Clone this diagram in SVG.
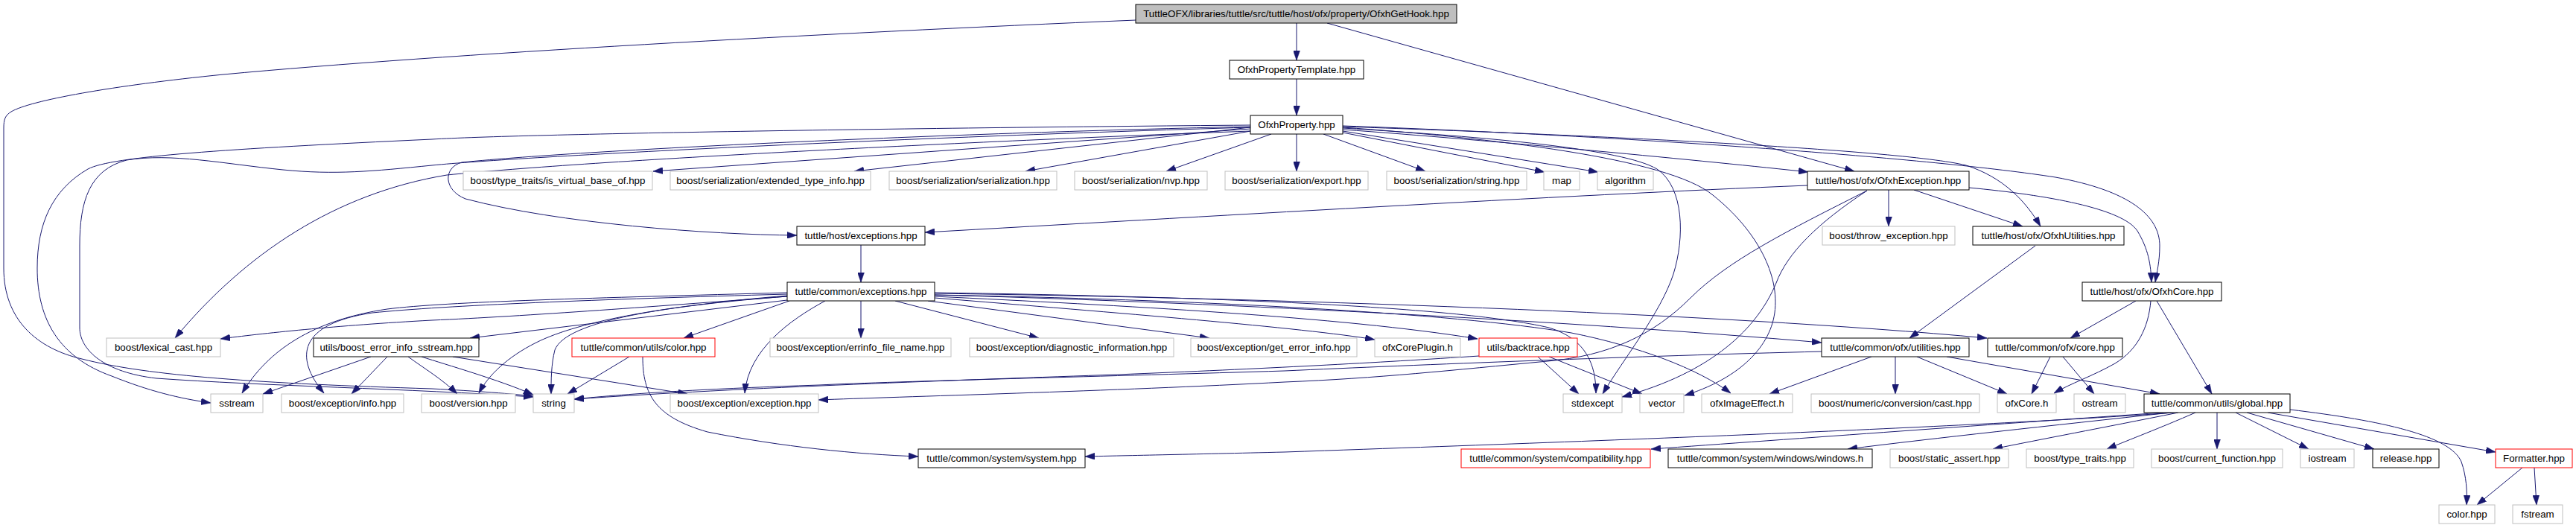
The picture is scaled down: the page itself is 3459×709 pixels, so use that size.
<svg xmlns="http://www.w3.org/2000/svg" width="3459" height="709" viewBox="0 0 3459 709">
<style>
rect{fill:#ffffff;stroke:#000000;stroke-width:1}
.g rect{stroke:#bfbfbf}
.r rect{stroke:#ff0000}
.root rect{fill:#bfbfbf}
text{font-family:"Liberation Sans",Arial,Helvetica,sans-serif;font-size:13.33px;text-anchor:middle;fill:#000000}
#edges path{fill:none;stroke:#191970;stroke-width:1;marker-end:url(#arr)}
</style>
<defs>
<marker id="arr" markerUnits="userSpaceOnUse" markerWidth="13" markerHeight="9" viewBox="0 0 13 9" refX="13" refY="4.5" orient="auto">
<path d="M0,0 L13,4.5 L0,9 z" fill="#191970" stroke="#191970" stroke-width="0.5"/>
</marker>
</defs>
<rect x="0" y="0" width="3459" height="709" style="fill:#ffffff;stroke:none"/>
<g id="edges">
<path d="M1741,31 L1741,81"/>
<path d="M1782,31 L2490,230"/>
<path d="M1525,27 C1100,45 600,72 300,100 C150,115 40,135 15,150 C7,155 5,160 5,172 L5,360 C5,430 50,468 110,482 C200,505 350,515 580,522 C640,525 690,529 716,532"/>
<path d="M1741,106 L1741,155"/>
<path d="M1679,173 L877,230"/>
<path d="M1679,171 L1147,230"/>
<path d="M1679,176 L1377,230"/>
<path d="M1707,180 L1566,230"/>
<path d="M1741,180 L1741,230"/>
<path d="M1777,180 L1914,230"/>
<path d="M1803,178 L2074,231"/>
<path d="M1803,176 L2146,231"/>
<path d="M1803,174 C2000,188 2300,217 2428,231"/>
<path d="M1803,170 C2100,180 2550,200 2640,222 C2690,238 2720,270 2740,304"/>
<path d="M1803,169 C2200,183 2600,213 2760,238 C2860,256 2900,290 2900,330 C2900,352 2896,366 2894,379"/>
<path d="M1803,172 C2000,184 2180,200 2225,227 C2262,252 2262,320 2247,368 C2230,420 2180,482 2152,529"/>
<path d="M1803,171 C2000,185 2240,212 2300,262 C2360,310 2390,370 2383,420 C2376,470 2330,510 2262,531"/>
<path d="M1679,168 C1200,172 700,180 580,187 C300,200 150,210 118,227 C70,255 50,300 50,360 C50,430 80,480 150,505 C200,525 240,535 283,541"/>
<path d="M1679,171 C1200,185 700,210 580,222 C500,230 450,235 380,228 C300,220 230,205 170,215 C120,228 107,270 107,330 L107,440 C107,470 140,500 210,508 C350,518 550,522 716,533"/>
<path d="M1679,176 C1300,190 800,215 600,235 C450,260 330,340 235,454"/>
<path d="M1679,170 C1300,178 800,200 620,218 C595,225 595,255 625,267 C750,300 950,315 1070,316"/>
<path d="M2427,249 C2100,262 1600,292 1242,312"/>
<path d="M2536,255 L2536,304"/>
<path d="M2570,255 L2716,304"/>
<path d="M2644,252 C2750,262 2850,280 2870,310 C2885,335 2888,355 2889,379"/>
<path d="M2507,256 C2440,300 2400,340 2385,380 C2360,440 2300,500 2178,533"/>
<path d="M2507,256 C2400,310 2320,350 2270,400 C2220,450 2160,478 2078,485 C1950,497 1850,508 1725,513 C1500,525 1200,533 1099,537"/>
<path d="M1156,329 L1156,379"/>
<path d="M2733,330 L2564,454"/>
<path d="M1057,398 C900,410 700,425 580,430 C450,437 350,448 296,455"/>
<path d="M1057,393 C800,400 600,405 520,415 C420,430 360,470 325,528"/>
<path d="M1057,395 C800,402 600,410 500,420 C400,435 395,480 435,528"/>
<path d="M1057,403 L631,454"/>
<path d="M1057,397 C900,410 780,430 720,460 C680,480 655,505 643,528"/>
<path d="M1057,398 C900,410 760,430 745,470 C740,490 740,510 740,529"/>
<path d="M1060,404 L918,454"/>
<path d="M1108,404 C1060,430 1005,470 1000,528"/>
<path d="M1156,404 L1156,454"/>
<path d="M1202,404 L1395,454"/>
<path d="M1246,404 L1624,454"/>
<path d="M1255,400 C1500,420 1750,440 1846,456"/>
<path d="M1255,398 C1500,410 1800,425 1984,455"/>
<path d="M1255,396 C1600,405 2100,430 2446,460"/>
<path d="M1255,394 C1700,400 2300,420 2668,454"/>
<path d="M1255,393 C1600,398 1950,410 2080,440 C2130,455 2143,490 2143,528"/>
<path d="M1255,396 C1600,402 1950,420 2110,447 C2200,465 2280,495 2324,528"/>
<path d="M2065,479 L2120,529"/>
<path d="M2080,479 L2205,529"/>
<path d="M1986,478 C1850,487 1700,495 1500,503 C1300,510 1000,520 771,536"/>
<path d="M2447,472 C2200,478 1900,490 1725,498 C1500,505 1200,512 1100,517 C950,522 850,528 771,536"/>
<path d="M2513,479 L2376,529"/>
<path d="M2545,479 L2545,529"/>
<path d="M2574,479 L2695,529"/>
<path d="M2614,479 L2900,529"/>
<path d="M2753,479 L2728,529"/>
<path d="M2770,479 L2812,529"/>
<path d="M2868,404 L2780,454"/>
<path d="M2896,404 L2970,529"/>
<path d="M2888,404 C2885,440 2870,470 2840,488 C2810,505 2780,515 2758,528"/>
<path d="M845,479 L762,529"/>
<path d="M863,479 C863,530 880,560 950,580 C1050,600 1150,610 1233,613"/>
<path d="M498,479 L353,529"/>
<path d="M520,479 L472,529"/>
<path d="M548,479 C570,495 595,510 614,529"/>
<path d="M566,479 C600,490 670,510 716,530"/>
<path d="M608,479 L923,529"/>
<path d="M2920,554 C2700,570 2300,587 1725,607 C1600,610 1500,612 1457,613"/>
<path d="M2905,554 C2700,568 2400,590 2217,603"/>
<path d="M2915,554 C2750,572 2600,588 2481,603"/>
<path d="M2925,554 C2820,575 2740,590 2676,603"/>
<path d="M2948,554 C2900,575 2860,590 2829,603"/>
<path d="M2977,554 L2977,603"/>
<path d="M3002,554 L3100,603"/>
<path d="M3017,554 L3188,603"/>
<path d="M3045,554 L3351,607"/>
<path d="M3075,550 C3200,565 3290,585 3305,620 C3312,640 3313,660 3312,678"/>
<path d="M3387,628 L3326,678"/>
<path d="M3403,628 L3406,678"/>
</g>
<g id="n0" class="root"><rect x="1525" y="6" width="431" height="25"/><text x="1740.5" y="23">TuttleOFX/libraries/tuttle/src/tuttle/host/ofx/property/OfxhGetHook.hpp</text></g>
<g id="n1"><rect x="1651" y="81" width="180" height="25"/><text x="1741" y="98">OfxhPropertyTemplate.hpp</text></g>
<g id="n2"><rect x="1679" y="155" width="124" height="25"/><text x="1741" y="172">OfxhProperty.hpp</text></g>
<g id="n3" class="g"><rect x="622" y="230" width="254" height="25"/><text x="749" y="247">boost/type_traits/is_virtual_base_of.hpp</text></g>
<g id="n4" class="g"><rect x="900" y="230" width="269" height="25"/><text x="1034.5" y="247">boost/serialization/extended_type_info.hpp</text></g>
<g id="n5" class="g"><rect x="1194" y="230" width="225" height="25"/><text x="1306.5" y="247">boost/serialization/serialization.hpp</text></g>
<g id="n6" class="g"><rect x="1443" y="230" width="178" height="25"/><text x="1532" y="247">boost/serialization/nvp.hpp</text></g>
<g id="n7" class="g"><rect x="1645" y="230" width="192" height="25"/><text x="1741" y="247">boost/serialization/export.hpp</text></g>
<g id="n8" class="g"><rect x="1862" y="230" width="188" height="25"/><text x="1956" y="247">boost/serialization/string.hpp</text></g>
<g id="n9" class="g"><rect x="2073" y="230" width="48" height="25"/><text x="2097" y="247">map</text></g>
<g id="n10" class="g"><rect x="2145" y="230" width="75" height="25"/><text x="2182.5" y="247">algorithm</text></g>
<g id="n11"><rect x="2427" y="230" width="217" height="25"/><text x="2535.5" y="247">tuttle/host/ofx/OfxhException.hpp</text></g>
<g id="n12"><rect x="1070" y="304" width="172" height="25"/><text x="1156" y="321">tuttle/host/exceptions.hpp</text></g>
<g id="n13" class="g"><rect x="2447" y="304" width="178" height="25"/><text x="2536" y="321">boost/throw_exception.hpp</text></g>
<g id="n14"><rect x="2649" y="304" width="203" height="25"/><text x="2750.5" y="321">tuttle/host/ofx/OfxhUtilities.hpp</text></g>
<g id="n15"><rect x="1057" y="379" width="198" height="25"/><text x="1156" y="396">tuttle/common/exceptions.hpp</text></g>
<g id="n16"><rect x="2796" y="379" width="187" height="25"/><text x="2889.5" y="396">tuttle/host/ofx/OfxhCore.hpp</text></g>
<g id="n17" class="g"><rect x="143" y="454" width="153" height="25"/><text x="219.5" y="471">boost/lexical_cast.hpp</text></g>
<g id="n18"><rect x="421" y="454" width="222" height="25"/><text x="532" y="471">utils/boost_error_info_sstream.hpp</text></g>
<g id="n19" class="r"><rect x="768" y="454" width="192" height="25"/><text x="864" y="471">tuttle/common/utils/color.hpp</text></g>
<g id="n20" class="g"><rect x="1034" y="454" width="243" height="25"/><text x="1155.5" y="471">boost/exception/errinfo_file_name.hpp</text></g>
<g id="n21" class="g"><rect x="1302" y="454" width="274" height="25"/><text x="1439" y="471">boost/exception/diagnostic_information.hpp</text></g>
<g id="n22" class="g"><rect x="1599" y="454" width="223" height="25"/><text x="1710.5" y="471">boost/exception/get_error_info.hpp</text></g>
<g id="n23" class="g"><rect x="1846" y="454" width="115" height="25"/><text x="1903.5" y="471">ofxCorePlugin.h</text></g>
<g id="n24" class="r"><rect x="1986" y="454" width="132" height="25"/><text x="2052" y="471">utils/backtrace.hpp</text></g>
<g id="n25"><rect x="2446" y="454" width="198" height="25"/><text x="2545" y="471">tuttle/common/ofx/utilities.hpp</text></g>
<g id="n26"><rect x="2669" y="454" width="181" height="25"/><text x="2759.5" y="471">tuttle/common/ofx/core.hpp</text></g>
<g id="n27" class="g"><rect x="283" y="529" width="70" height="25"/><text x="318" y="546">sstream</text></g>
<g id="n28" class="g"><rect x="378" y="529" width="164" height="25"/><text x="460" y="546">boost/exception/info.hpp</text></g>
<g id="n29" class="g"><rect x="566" y="529" width="126" height="25"/><text x="629" y="546">boost/version.hpp</text></g>
<g id="n30" class="g"><rect x="716" y="529" width="55" height="25"/><text x="743.5" y="546">string</text></g>
<g id="n31" class="g"><rect x="900" y="529" width="199" height="25"/><text x="999.5" y="546">boost/exception/exception.hpp</text></g>
<g id="n32" class="g"><rect x="2099" y="529" width="79" height="25"/><text x="2138.5" y="546">stdexcept</text></g>
<g id="n33" class="g"><rect x="2202" y="529" width="59" height="25"/><text x="2231.5" y="546">vector</text></g>
<g id="n34" class="g"><rect x="2285" y="529" width="122" height="25"/><text x="2346" y="546">ofxImageEffect.h</text></g>
<g id="n35" class="g"><rect x="2432" y="529" width="226" height="25"/><text x="2545" y="546">boost/numeric/conversion/cast.hpp</text></g>
<g id="n36" class="g"><rect x="2682" y="529" width="79" height="25"/><text x="2721.5" y="546">ofxCore.h</text></g>
<g id="n37" class="g"><rect x="2785" y="529" width="69" height="25"/><text x="2819.5" y="546">ostream</text></g>
<g id="n38"><rect x="2879" y="529" width="196" height="25"/><text x="2977" y="546">tuttle/common/utils/global.hpp</text></g>
<g id="n39"><rect x="1233" y="603" width="224" height="25"/><text x="1345" y="620">tuttle/common/system/system.hpp</text></g>
<g id="n40" class="r"><rect x="1962" y="603" width="254" height="25"/><text x="2089" y="620">tuttle/common/system/compatibility.hpp</text></g>
<g id="n41"><rect x="2240" y="603" width="274" height="25"/><text x="2377" y="620">tuttle/common/system/windows/windows.h</text></g>
<g id="n42" class="g"><rect x="2538" y="603" width="159" height="25"/><text x="2617.5" y="620">boost/static_assert.hpp</text></g>
<g id="n43" class="g"><rect x="2721" y="603" width="144" height="25"/><text x="2793" y="620">boost/type_traits.hpp</text></g>
<g id="n44" class="g"><rect x="2889" y="603" width="176" height="25"/><text x="2977" y="620">boost/current_function.hpp</text></g>
<g id="n45" class="g"><rect x="3089" y="603" width="72" height="25"/><text x="3125" y="620">iostream</text></g>
<g id="n46"><rect x="3186" y="603" width="89" height="25"/><text x="3230.5" y="620">release.hpp</text></g>
<g id="n47" class="r"><rect x="3351" y="603" width="103" height="25"/><text x="3402.5" y="620">Formatter.hpp</text></g>
<g id="n48" class="g"><rect x="3275" y="678" width="75" height="25"/><text x="3312.5" y="695">color.hpp</text></g>
<g id="n49" class="g"><rect x="3374" y="678" width="67" height="25"/><text x="3407.5" y="695">fstream</text></g>
</svg>
